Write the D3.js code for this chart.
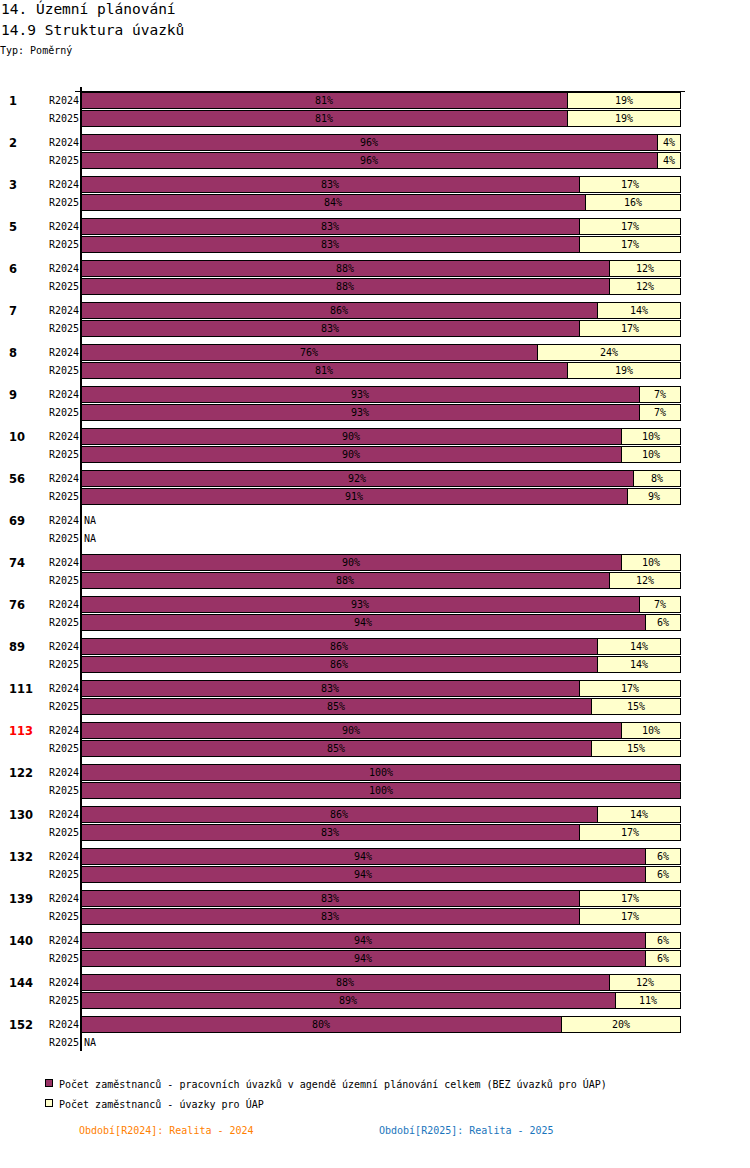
<!DOCTYPE html>
<html>
<head>
<meta charset="utf-8">
<script src="https://cdn.jsdelivr.net/npm/d3@7"></script>
<style>
  body { margin: 0; background: #fff; }
  text { font-family: "DejaVu Sans Mono", monospace; }
</style>
</head>
<body>
<svg id="chart" width="750" height="1168"></svg>
<script>
// groups and their two periods; null = NA
const groups = ["1","2","3","5","6","7","8","9","10","56","69","74","76","89","111","113","122","130","132","139","140","144","152"];
const periods = ["R2024","R2025"];
const highlight = ["113"];
// share of the first series (%), the second is 100 - value
const r2024 = [81,96,83,83,88,86,76,93,90,92,null,90,93,86,83,90,100,86,94,83,94,88,80];
const r2025 = [81,96,84,83,88,83,81,93,90,91,null,88,94,86,85,85,100,83,94,83,94,89,null];
const seriesNames = [
  "Počet zaměstnanců - pracovních úvazků v agendě územní plánování celkem (BEZ úvazků pro ÚAP)",
  "Počet zaměstnanců - úvazky pro ÚAP"
];
const colors = ["#993366", "#ffffcc"];
const periodNotes = ["Období[R2024]: Realita - 2024", "Období[R2025]: Realita - 2025"];
const noteColors = ["#ff8000", "#1a75bc"];

let svg = d3.select("#chart");

svg.append("text").attr("x", 1).attr("y", 14)
  .style("font-size", "14.5px").text("14. Územní plánování");
svg.append("text").attr("x", 1).attr("y", 35)
  .style("font-size", "14.5px").text("14.9 Struktura úvazků");
svg.append("text").attr("x", 0).attr("y", 54)
  .style("font-size", "10px").text("Typ: Poměrný");

let rows = [];
groups.forEach((g, i) => {
  rows.push({group: g, period: periods[0], v: r2024[i], first: true});
  rows.push({group: g, period: periods[1], v: r2025[i], first: false});
});

let left = 81, right = 681;
let xScale = d3.scaleLinear().domain([0, 100]).range([left, right]);

// each group: two 18px rows + 6px gap
let groupScale = d3.scaleBand().domain(groups).range([91, 91 + 42 * groups.length]);
let yRow = d => groupScale(d.group) + (d.first ? 0 : 18);
let barH = 16;

let g = svg.append("g");

// top tick line
g.append("line").attr("x1", 75).attr("x2", 685).attr("y1", 91.5).attr("y2", 91.5)
  .attr("stroke", "#000").attr("stroke-width", 1);

// bars
let valid = rows.filter(d => d.v !== null);
g.selectAll(".bar1").data(valid).enter().append("rect")
  .attr("x", xScale(0) + 0.5)
  .attr("y", d => yRow(d) + 1.5)
  .attr("width", d => xScale(d.v) - xScale(0) - (d.v === 100 ? 1 : 0))
  .attr("height", barH)
  .attr("fill", colors[0]).attr("stroke", "#000").attr("stroke-width", 1);

g.selectAll(".bar2").data(valid.filter(d => d.v < 100)).enter().append("rect")
  .attr("x", d => xScale(d.v) + 0.5)
  .attr("y", d => yRow(d) + 1.5)
  .attr("width", d => xScale(100) - xScale(d.v) - 1)
  .attr("height", barH)
  .attr("fill", colors[1]).attr("stroke", "#000").attr("stroke-width", 1);

// value labels
g.selectAll(".lab1").data(valid).enter().append("text")
  .attr("x", d => (xScale(0) + xScale(d.v)) / 2)
  .attr("y", d => yRow(d) + 13)
  .attr("text-anchor", "middle").style("font-size", "10px")
  .text(d => d.v + "%");
g.selectAll(".lab2").data(valid.filter(d => d.v < 100)).enter().append("text")
  .attr("x", d => (xScale(d.v) + xScale(100)) / 2)
  .attr("y", d => yRow(d) + 13)
  .attr("text-anchor", "middle").style("font-size", "10px")
  .text(d => (100 - d.v) + "%");

// NA labels
g.selectAll(".na").data(rows.filter(d => d.v === null)).enter().append("text")
  .attr("x", 84).attr("y", d => yRow(d) + 13)
  .style("font-size", "10px").text("NA");

// period labels
g.selectAll(".per").data(rows).enter().append("text")
  .attr("x", 79).attr("y", d => yRow(d) + 13)
  .attr("text-anchor", "end").style("font-size", "10px")
  .text(d => d.period);

// group labels
g.selectAll(".grp").data(groups).enter().append("text")
  .attr("x", 9).attr("y", d => groupScale(d) + 13.5)
  .style("font-family", "'DejaVu Sans', sans-serif").style("font-weight", "bold").style("font-size", "11.5px")
  .attr("fill", d => highlight.includes(d) ? "#ff0000" : "#000")
  .text(d => d);

// axis line
let axisBottom = groupScale(groups[groups.length - 1]) + 36;
g.append("line").attr("x1", 81).attr("x2", 81).attr("y1", 87).attr("y2", axisBottom)
  .attr("stroke", "#000").attr("stroke-width", 2);

// legend
let legend = svg.append("g");
seriesNames.forEach((name, i) => {
  let ly = 1079 + i * 20;
  legend.append("rect").attr("x", 45.5).attr("y", ly + 0.5).attr("width", 7).attr("height", 7)
    .attr("fill", colors[i]).attr("stroke", "#000");
  legend.append("text").attr("x", 59).attr("y", ly + 8.5)
    .style("font-size", "10px").text(name);
});
periodNotes.forEach((t, i) => {
  legend.append("text").attr("x", 79 + i * 300).attr("y", 1134)
    .style("font-size", "10px").attr("fill", noteColors[i]).text(t);
});
</script>
</body>
</html>
